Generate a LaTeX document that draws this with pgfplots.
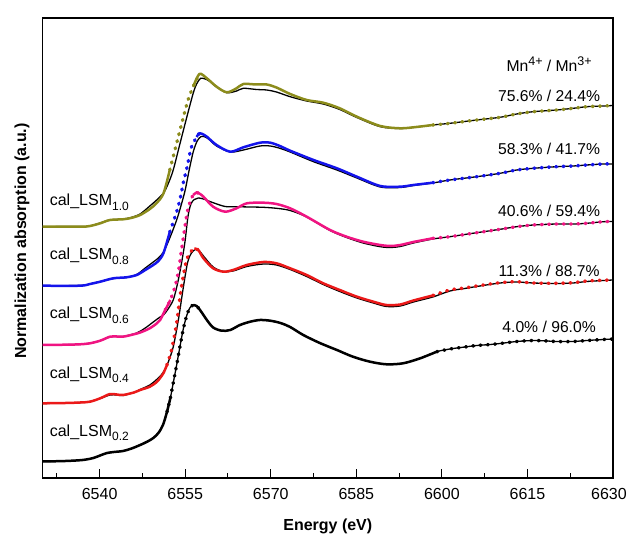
\documentclass[border=0pt]{standalone}
\usepackage{fontspec}
\setmainfont{Liberation Sans}
\usepackage{pgfplots}
\pgfplotsset{compat=1.18}
\usepackage{pgfplotstable}

\definecolor{colive}{RGB}{140,140,28}
\definecolor{cblue}{RGB}{20,20,235}
\definecolor{cpink}{RGB}{240,20,130}
\definecolor{cred}{RGB}{235,25,25}

% LSM0.2 (experiment and fit nearly identical)
\pgfplotstableread{
E y
6530.0 461.5
6534.0 461.0
6537.0 460.0
6538.9 458.0
6540.3 455.0
6541.3 453.0
6542.5 452.0
6544.1 451.0
6545.6 448.5
6547.1 445.0
6548.4 441.5
6549.4 438.0
6550.3 433.0
6551.1 425.0
6551.8 412.0
6552.4 398.0
6552.9 383.0
6553.5 365.0
6554.1 346.0
6554.7 328.0
6555.3 315.0
6555.8 308.0
6556.4 305.0
6557.0 306.0
6557.6 310.0
6558.8 320.0
6559.9 327.5
6561.4 330.7
6562.9 330.0
6564.6 325.0
6566.4 321.7
6568.1 320.0
6569.9 320.7
6571.7 323.0
6573.4 327.0
6575.7 335.0
6578.6 343.0
6581.6 350.0
6584.4 356.7
6587.4 361.7
6590.3 364.3
6593.2 363.3
6596.2 358.3
6599.1 351.7
6601.4 349.0
6604.0 347.0
6606.1 345.5
6608.5 344.5
6610.2 343.5
6613.1 341.5
6616.0 340.5
6618.5 341.0
6620.1 341.5
6623.0 341.5
6625.4 340.5
6628.3 339.5
6630.0 339.0
}\expA

% LSM0.4
\pgfplotstableread{
E y
6530.0 403.3
6534.0 403.0
6536.6 402.5
6538.3 401.7
6540.1 398.3
6541.8 394.0
6543.0 394.5
6544.1 395.0
6546.0 392.5
6547.1 390.0
6548.8 386.7
6550.0 382.0
6550.6 378.0
6551.2 373.0
6551.8 365.0
6552.6 350.0
6553.5 323.0
6554.2 292.0
6555.1 263.0
6555.8 253.0
6556.6 248.5
6557.3 250.0
6558.2 258.3
6559.9 268.3
6561.7 271.7
6563.4 270.0
6565.8 265.0
6568.7 262.0
6571.0 263.3
6573.4 268.3
6576.3 275.0
6579.2 283.3
6582.1 290.0
6585.1 296.7
6588.0 301.7
6590.3 305.0
6592.7 304.5
6595.0 300.5
6598.4 295.5
6601.4 290.0
6604.0 288.0
6606.1 286.0
6610.2 282.7
6613.1 281.7
6616.0 283.0
6620.1 283.3
6623.0 282.7
6625.4 281.0
6628.3 280.3
6630.0 280.0
}\expB
\pgfplotstableread{
E y
6530.0 403.5
6534.0 403.0
6536.6 402.5
6538.3 401.5
6540.1 398.5
6541.8 395.0
6543.0 395.0
6544.1 395.5
6546.0 392.5
6547.1 389.5
6548.8 385.0
6550.0 379.5
6550.8 375.0
6551.5 369.0
6552.1 361.0
6552.9 347.0
6553.8 320.0
6554.6 290.0
6555.4 263.0
6556.1 253.0
6556.8 249.5
6557.5 251.0
6558.2 256.0
6559.9 267.0
6561.7 271.5
6563.4 271.0
6565.8 266.5
6568.7 264.0
6571.0 265.0
6573.4 269.5
6576.3 276.5
6579.2 284.5
6582.1 291.5
6585.1 298.0
6588.0 303.0
6590.3 306.5
6592.7 306.0
6595.0 302.0
6598.4 297.0
6601.4 291.0
6604.0 288.5
6606.1 286.5
6610.2 283.0
6613.1 282.0
6616.0 283.0
6620.1 283.5
6623.0 283.0
6625.4 281.5
6628.3 280.5
6630.0 280.0
}\fitB

% LSM0.6
\pgfplotstableread{
E y
6530.0 345.0
6534.0 344.7
6536.6 344.3
6538.3 343.3
6540.1 340.7
6541.8 336.7
6543.0 336.5
6544.1 336.7
6545.5 335.0
6547.1 332.5
6548.8 328.3
6550.0 323.5
6550.6 320.0
6551.5 310.0
6552.4 300.0
6553.2 287.0
6553.8 272.0
6554.3 252.0
6554.8 233.0
6555.3 214.0
6555.9 201.0
6556.4 195.0
6557.0 192.5
6557.6 194.0
6558.2 196.7
6559.9 206.7
6562.0 211.7
6564.0 208.3
6565.8 203.3
6568.7 202.7
6571.0 204.0
6573.4 208.3
6576.3 216.7
6580.4 230.0
6583.3 236.7
6586.2 241.7
6589.2 245.0
6591.0 246.0
6592.7 245.0
6595.0 242.0
6598.4 238.3
6601.4 236.7
6606.1 232.7
6610.2 229.3
6613.1 226.7
6616.0 225.0
6620.1 224.0
6623.0 224.0
6625.4 223.3
6628.3 221.7
6630.0 221.5
}\expC
\pgfplotstableread{
E y
6530.0 345.0
6534.0 344.7
6536.6 344.3
6538.3 343.3
6540.1 340.7
6541.8 337.0
6543.0 336.5
6544.1 336.5
6546.5 333.0
6548.0 328.0
6549.4 322.0
6550.6 317.0
6551.2 315.0
6552.0 309.0
6552.9 300.0
6553.6 285.0
6554.1 271.0
6554.6 255.0
6555.0 240.0
6555.5 216.0
6556.0 204.0
6556.6 199.5
6557.3 198.0
6558.2 199.0
6559.9 202.7
6562.0 206.5
6564.0 206.7
6566.4 207.0
6568.7 207.3
6571.0 208.3
6573.4 210.5
6576.3 217.0
6580.4 230.5
6583.3 237.5
6586.2 243.0
6589.2 246.7
6591.0 247.5
6592.7 246.5
6595.0 243.0
6598.4 239.0
6601.4 236.7
6606.1 232.7
6610.2 229.3
6613.1 226.7
6616.0 225.0
6620.1 224.0
6623.0 224.0
6625.4 223.3
6628.3 221.7
6630.0 221.5
}\fitC

% LSM0.8
\pgfplotstableread{
E y
6530.0 285.7
6536.6 285.7
6538.3 284.0
6540.1 281.7
6542.4 278.3
6544.7 277.3
6546.5 275.0
6548.0 270.0
6549.4 265.0
6550.3 261.0
6551.2 253.0
6552.3 232.0
6553.5 212.0
6554.1 199.0
6554.7 182.0
6555.3 168.0
6555.8 154.0
6556.1 147.0
6557.0 137.0
6557.5 133.3
6558.2 134.5
6558.8 136.7
6560.5 145.0
6562.9 151.7
6565.2 147.3
6568.1 142.7
6569.9 142.7
6571.6 146.0
6573.4 150.7
6577.5 160.0
6581.6 168.3
6585.1 176.7
6589.2 186.0
6592.7 186.7
6595.0 185.0
6598.4 182.7
6601.4 180.0
6606.1 176.7
6610.2 173.3
6613.1 170.0
6616.0 168.3
6620.1 166.7
6623.0 166.0
6625.4 165.0
6628.3 164.0
6630.0 164.0
}\expD
\pgfplotstableread{
E y
6530.0 285.7
6536.6 285.5
6538.3 284.0
6540.1 281.5
6542.4 278.5
6544.7 277.5
6546.5 274.5
6548.0 268.0
6549.4 262.0
6550.3 258.0
6551.2 252.0
6552.3 238.0
6553.5 220.0
6554.3 205.0
6555.0 190.0
6555.7 170.0
6556.4 152.0
6557.1 141.0
6557.8 136.5
6558.5 137.0
6559.2 139.5
6560.5 146.0
6562.9 152.0
6565.2 150.0
6568.1 146.0
6569.9 146.0
6571.6 148.3
6573.4 152.0
6577.5 161.7
6581.6 170.0
6585.1 178.0
6589.2 187.0
6592.7 187.5
6595.0 185.5
6598.4 183.0
6601.4 180.0
6606.1 176.7
6610.2 173.3
6613.1 170.0
6616.0 168.3
6620.1 166.7
6623.0 166.0
6625.4 165.0
6628.3 164.0
6630.0 164.0
}\fitD

% LSM1.0
\pgfplotstableread{
E y
6530.0 226.7
6536.6 226.7
6538.3 226.0
6540.1 223.3
6541.8 220.0
6544.1 219.3
6545.5 218.0
6547.1 215.0
6548.8 209.0
6550.0 203.0
6551.2 193.3
6552.3 170.0
6553.5 143.3
6554.7 116.7
6555.5 100.0
6556.4 86.7
6557.5 74.0
6558.8 78.3
6560.5 86.7
6562.3 92.3
6564.0 88.3
6565.2 84.0
6567.5 84.5
6569.3 84.5
6571.0 87.5
6573.4 94.0
6576.3 100.0
6579.2 102.7
6582.1 108.3
6585.1 116.7
6589.2 126.0
6592.7 128.3
6595.5 127.0
6598.4 125.0
6601.4 123.3
6606.1 120.0
6610.2 117.3
6613.1 114.0
6616.0 111.7
6620.1 110.0
6623.0 108.3
6625.4 106.7
6628.3 106.0
6630.0 105.5
}\expE
\pgfplotstableread{
E y
6530.0 226.7
6536.6 226.5
6538.3 226.0
6540.1 223.0
6541.8 220.0
6544.1 219.0
6545.5 217.5
6547.1 214.0
6548.8 206.0
6550.0 200.0
6551.2 193.0
6552.0 184.0
6552.9 170.0
6554.1 143.3
6555.3 116.7
6556.4 93.3
6557.0 84.0
6557.7 78.3
6558.5 79.0
6559.2 81.0
6560.5 87.0
6562.3 92.7
6564.0 91.0
6565.2 88.3
6567.5 89.5
6569.3 90.0
6571.0 92.0
6573.4 96.7
6576.3 101.0
6579.2 104.0
6582.1 109.5
6585.1 117.5
6589.2 126.7
6592.7 128.5
6595.5 127.0
6598.4 125.0
6601.4 123.3
6606.1 120.0
6610.2 117.3
6613.1 114.0
6616.0 111.7
6620.1 110.0
6623.0 108.3
6625.4 106.7
6628.3 106.0
6630.0 105.5
}\fitE

\pgfplotsset{
  exps/.style={line width=2.5pt, smooth, tension=0.5},
  expdots/.style={line width=3.4pt, line cap=round, dash pattern=on 1pt off 6.3pt, smooth, tension=0.5},
  fitline/.style={black, line width=1.3pt, smooth, tension=0.5},
}
\newcommand{\sample}[3]{%
  \addplot[fitline] table[x=E,y=y] {#3};
  \addplot[#1, exps, restrict x to domain=6530:6552.4] table[x=E,y=y] {#2};
  \addplot[#1, expdots, restrict x to domain=6551.4:6557.6] table[x=E,y=y] {#2};
  \addplot[#1, exps, restrict x to domain=6556.3:6599.2] table[x=E,y=y] {#2};
  \addplot[#1, expdots, restrict x to domain=6598.3:6630] table[x=E,y=y] {#2};
}
\newcommand{\lbl}[1]{cal\_LSM\raisebox{-4.5pt}{\fontsize{12}{12}\selectfont #1}}
\newcommand{\supr}[1]{\raisebox{6pt}{\fontsize{12.5}{12.5}\selectfont #1}}

\begin{document}
\begin{tikzpicture}
\begin{axis}[
  at={(0,0)}, anchor=south west,
  scale only axis, width=570.4pt, height=460pt,
  xmin=6530, xmax=6630, ymin=18, ymax=478, y dir=reverse,
  xtick={6540,6555,6570,6585,6600,6615,6630},
  xticklabels={6540,6555,6570,6585,6600,6615,\hspace*{-8pt}6630},
  minor xtick={6532.5,6547.5,6562.5,6577.5,6592.5,6607.5,6622.5},
  ytick=\empty,
  xtick pos=bottom, tick align=inside,
  major tick length=9pt, minor tick length=5pt,
  every tick/.style={black, line width=1pt},
  axis line style={line width=1.1pt},
  ticklabel style={font=\fontsize{16}{19}\selectfont},
  xticklabel style={yshift=-7pt},
  xlabel={Energy (eV)},
  ylabel={Normalization absorption (a.u.)},
  label style={font=\bfseries\fontsize{16}{19}\selectfont},
  xlabel style={yshift=-12pt},
  ylabel style={at={(axis description cs:-0.036,0.515)}, anchor=center},
]
\sample{black}{\expA}{\expA}
\sample{cred}{\expB}{\fitB}
\sample{cpink}{\expC}{\fitC}
\sample{cblue}{\expD}{\fitD}
\sample{colive}{\expE}{\fitE}

\node[anchor=base west, font=\fontsize{16}{19}\selectfont] at (axis cs:6530.65,206) {\lbl{1.0}};
\node[anchor=base west, font=\fontsize{16}{19}\selectfont] at (axis cs:6530.65,260) {\lbl{0.8}};
\node[anchor=base west, font=\fontsize{16}{19}\selectfont] at (axis cs:6530.65,319) {\lbl{0.6}};
\node[anchor=base west, font=\fontsize{16}{19}\selectfont] at (axis cs:6530.65,378) {\lbl{0.4}};
\node[anchor=base west, font=\fontsize{16}{19}\selectfont] at (axis cs:6530.65,436) {\lbl{0.2}};

\node[anchor=base, font=\fontsize{15.7}{18}\selectfont] at (axis cs:6618.8,72) {Mn\supr{4+} / Mn\supr{3+}};
\node[anchor=base, font=\fontsize{15.7}{18}\selectfont] at (axis cs:6618.8,102) {75.6\% / 24.4\%};
\node[anchor=base, font=\fontsize{15.7}{18}\selectfont] at (axis cs:6618.8,155) {58.3\% / 41.7\%};
\node[anchor=base, font=\fontsize{15.7}{18}\selectfont] at (axis cs:6618.8,217) {40.6\% / 59.4\%};
\node[anchor=base, font=\fontsize{15.7}{18}\selectfont] at (axis cs:6618.8,277) {11.3\% / 88.7\%};
\node[anchor=base, font=\fontsize{15.7}{18}\selectfont] at (axis cs:6618.8,332) {4.0\% / 96.0\%};
\end{axis}
\pgfresetboundingbox
\path (-42.6pt,-59pt) rectangle (584.4pt,478pt);
\end{tikzpicture}
\end{document}
